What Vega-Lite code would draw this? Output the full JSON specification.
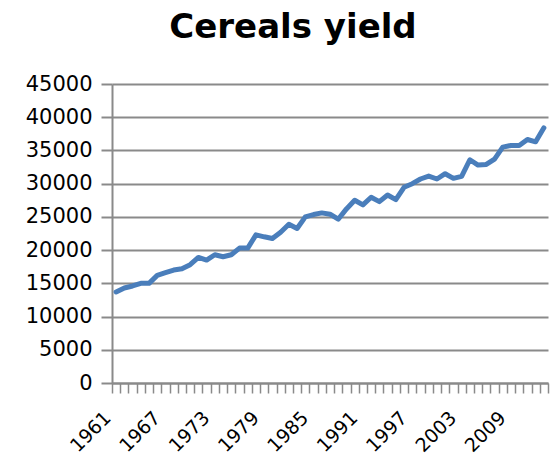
{
  "$schema": "https://vega.github.io/schema/vega-lite/v6.json",
  "autosize": "none",
  "width": 436,
  "height": 299,
  "padding": {"left": 112, "top": 84, "right": 3, "bottom": 73},
  "background": "white",
  "title": {
    "text": "Cereals yield",
    "font": "DejaVu Sans",
    "fontSize": 34,
    "fontWeight": "bold",
    "color": "#000000",
    "anchor": "middle",
    "frame": "group",
    "dx": -37,
    "dy": 36,
    "baseline": "alphabetic",
    "offset": 37
  },
  "config": {"view": {"stroke": null}},
  "data": {
    "values": [
      {"year": 1961, "yield": 13700},
      {"year": 1962, "yield": 14300},
      {"year": 1963, "yield": 14600},
      {"year": 1964, "yield": 15000},
      {"year": 1965, "yield": 15000},
      {"year": 1966, "yield": 16200},
      {"year": 1967, "yield": 16600},
      {"year": 1968, "yield": 17000},
      {"year": 1969, "yield": 17200},
      {"year": 1970, "yield": 17800},
      {"year": 1971, "yield": 18900},
      {"year": 1972, "yield": 18500},
      {"year": 1973, "yield": 19300},
      {"year": 1974, "yield": 19000},
      {"year": 1975, "yield": 19300},
      {"year": 1976, "yield": 20300},
      {"year": 1977, "yield": 20300},
      {"year": 1978, "yield": 22300},
      {"year": 1979, "yield": 22000},
      {"year": 1980, "yield": 21750},
      {"year": 1981, "yield": 22700},
      {"year": 1982, "yield": 23900},
      {"year": 1983, "yield": 23250},
      {"year": 1984, "yield": 25000},
      {"year": 1985, "yield": 25350},
      {"year": 1986, "yield": 25600},
      {"year": 1987, "yield": 25400},
      {"year": 1988, "yield": 24650},
      {"year": 1989, "yield": 26200},
      {"year": 1990, "yield": 27500},
      {"year": 1991, "yield": 26800},
      {"year": 1992, "yield": 27950},
      {"year": 1993, "yield": 27300},
      {"year": 1994, "yield": 28300},
      {"year": 1995, "yield": 27600},
      {"year": 1996, "yield": 29450},
      {"year": 1997, "yield": 30000},
      {"year": 1998, "yield": 30700},
      {"year": 1999, "yield": 31150},
      {"year": 2000, "yield": 30700},
      {"year": 2001, "yield": 31500},
      {"year": 2002, "yield": 30800},
      {"year": 2003, "yield": 31100},
      {"year": 2004, "yield": 33600},
      {"year": 2005, "yield": 32800},
      {"year": 2006, "yield": 32900},
      {"year": 2007, "yield": 33700},
      {"year": 2008, "yield": 35500},
      {"year": 2009, "yield": 35750},
      {"year": 2010, "yield": 35750},
      {"year": 2011, "yield": 36650},
      {"year": 2012, "yield": 36300},
      {"year": 2013, "yield": 38400}
    ]
  },
  "mark": {"type": "line", "color": "#4a7ebb", "strokeWidth": 5, "strokeJoin": "round", "strokeCap": "round"},
  "encoding": {
    "x": {
      "field": "year",
      "type": "quantitative",
      "scale": {"domain": [1960.5, 2013.5], "nice": false, "zero": false},
      "axis": {
        "title": null,
        "values": [1960.5,1961.5,1962.5,1963.5,1964.5,1965.5,1966.5,1967.5,1968.5,1969.5,1970.5,1971.5,1972.5,1973.5,1974.5,1975.5,1976.5,1977.5,1978.5,1979.5,1980.5,1981.5,1982.5,1983.5,1984.5,1985.5,1986.5,1987.5,1988.5,1989.5,1990.5,1991.5,1992.5,1993.5,1994.5,1995.5,1996.5,1997.5,1998.5,1999.5,2000.5,2001.5,2002.5,2003.5,2004.5,2005.5,2006.5,2007.5,2008.5,2009.5,2010.5,2011.5,2012.5,2013.5],
        "labelExpr": "(datum.value + 0.5 - 1961) % 6 === 0 ? format(datum.value + 0.5, 'd') : ''",
        "labelOffset": -11,
        "labelAngle": -45,
        "labelAlign": "right",
        "labelBaseline": "top",
        "labelFont": "DejaVu Sans",
        "labelFontSize": 19,
        "labelColor": "#000000",
        "labelOverlap": false,
        "labelBound": false,
        "labelFlush": false,
        "labelPadding": 15,
        "tickSize": 10,
        "tickColor": "#8a8a8a",
        "tickWidth": 1.5,
        "domainColor": "#8a8a8a",
        "domainWidth": 2,
        "grid": false
      }
    },
    "y": {
      "field": "yield",
      "type": "quantitative",
      "scale": {"domain": [0, 45000], "nice": false},
      "axis": {
        "title": null,
        "values": [0,5000,10000,15000,20000,25000,30000,35000,40000,45000],
        "format": "d",
        "labelFont": "DejaVu Sans",
        "labelFontSize": 21,
        "labelColor": "#000000",
        "labelPadding": 9,
        "tickSize": 11,
        "tickColor": "#8a8a8a",
        "tickWidth": 2,
        "domainColor": "#8a8a8a",
        "domainWidth": 2,
        "grid": true,
        "gridColor": "#8a8a8a",
        "gridWidth": 2
      }
    }
  }
}
